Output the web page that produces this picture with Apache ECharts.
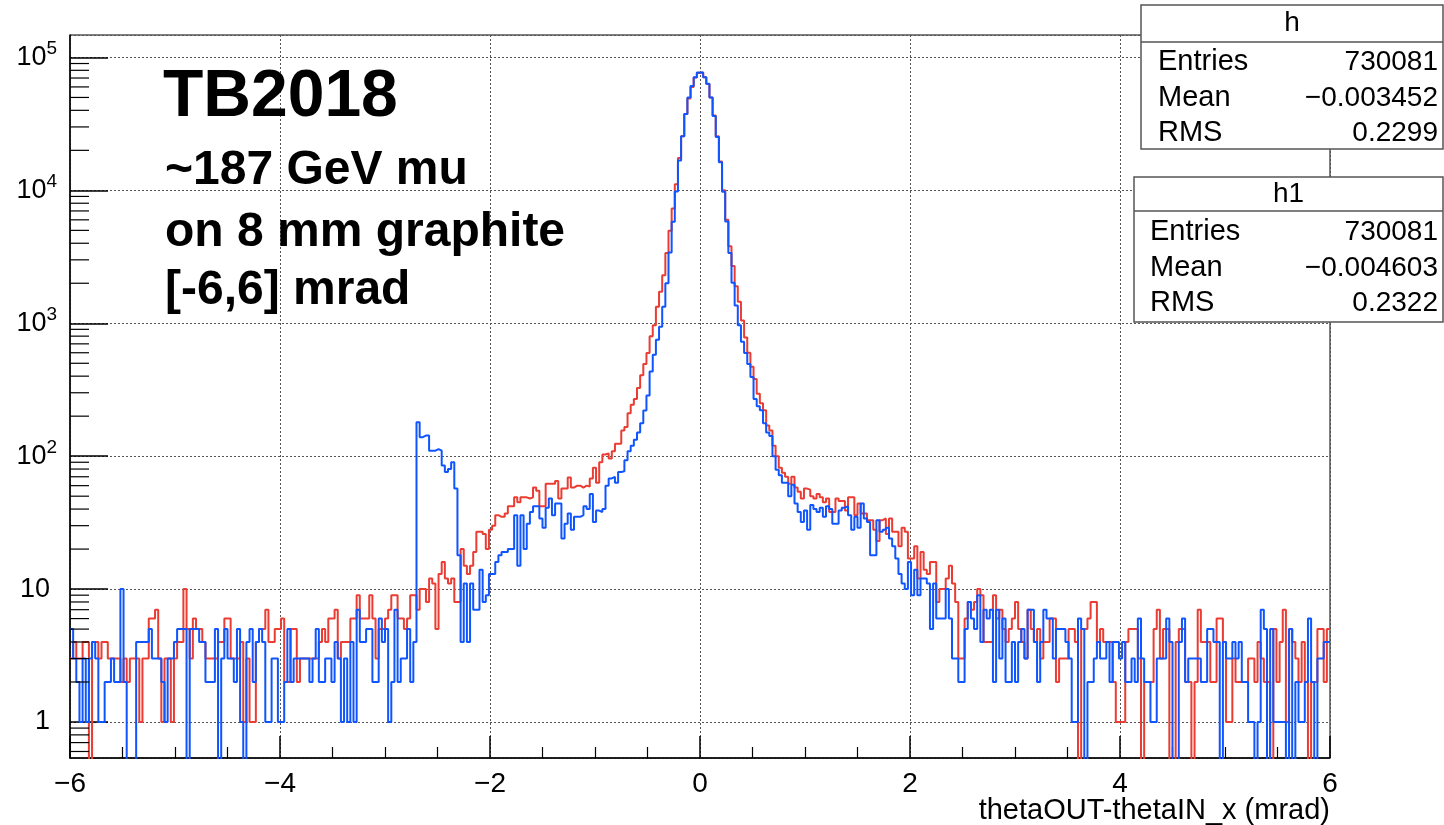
<!DOCTYPE html>
<html><head><meta charset="utf-8">
<script src="https://cdn.jsdelivr.net/npm/echarts@6/dist/echarts.min.js"></script>
<style>html,body{margin:0;padding:0;background:#fff}#c{width:1444px;height:825px}</style>
</head><body><div id="c"></div>
<script>
// ---- histogram definition ----
const xMin = -6, xMax = 6, nBins = 400;
const xTickValues = [-6, -4, -2, 0, 2, 4, 6];
const yDecadeLabels = ['1', '10', '10^2', '10^3', '10^4', '10^5'];

// red histogram (h), bin contents, 0.03 mrad bins from -6 to 6
const countsRed = [
3,4,3,3,4,4,0,4,4,3,4,4,3,3,3,3,2,3,2,3,
3,3,1,3,3,6,6,7,3,1,3,3,1,3,4,4,10,5,3,6,
5,5,4,3,3,3,3,4,4,6,6,3,3,3,4,1,3,1,1,4,
5,5,7,4,4,5,5,6,2,2,5,5,2,3,3,3,3,3,3,4,
5,4,6,6,7,3,4,4,4,6,6,9,6,6,6,9,6,3,5,5,
6,7,9,9,6,6,5,6,9,9,7,10,10,8,12,11,5,13,16,12,
11,12,8,8,20,15,13,15,19,27,27,26,20,28,30,36,35,35,37,42,
42,49,45,49,49,48,49,58,55,42,42,62,62,62,65,48,57,57,69,58,
60,60,58,60,59,68,82,63,90,103,105,96,109,124,124,156,166,210,244,269,
326,407,494,598,798,968,1330,1725,2300,3380,4970,7300,11100,17500,25500,37500,49000,60000,70500,76500,
77000,71000,63000,50000,36500,25500,16500,10000,6000,3800,2700,1900,1450,1050,780,600,470,380,295,250,
222,170,156,120,100,82,75,70,62,70,58,54,48,57,56,50,48,52,49,45,
48,38,38,48,46,46,39,49,49,36,44,37,37,33,33,28,23,33,34,26,
34,27,27,21,29,27,17,17,21,12,19,14,13,16,16,8,10,10,12,15,
11,8,3,3,6,8,7,8,10,9,4,4,4,9,6,7,5,4,5,6,
8,5,4,3,7,5,4,5,3,4,4,6,6,2,3,3,3,5,5,4,
0,5,5,6,8,8,4,5,4,4,4,2,1,1,1,4,5,5,5,3,
0,2,2,2,5,7,3,5,5,0,0,4,5,5,2,2,0,2,7,4,
4,4,2,2,6,6,4,1,1,3,2,2,2,2,3,3,2,4,3,2,
2,0,5,2,4,7,1,5,4,3,2,4,2,0,2,2,5,5,2,5
];

// blue histogram (h1)
const countsBlue = [
5,3,2,1,3,1,3,4,3,1,1,2,2,3,2,2,10,2,0,0,
0,4,4,4,4,5,3,3,3,2,1,3,3,4,5,5,5,0,5,5,
5,4,4,2,2,2,5,0,3,5,3,3,2,5,1,0,4,5,2,4,
5,4,1,1,3,3,1,1,2,5,2,3,3,3,3,3,2,3,5,2,
2,3,3,2,4,3,1,3,1,4,1,7,4,4,5,5,2,2,6,4,
5,1,2,7,2,3,3,5,2,4,180,139,143,143,110,110,113,110,85,76,
80,90,57,18,4,11,4,11,7,7,14,8,9,13,13,16,18,19,19,20,
20,36,15,36,20,31,38,42,42,34,29,41,48,36,44,44,24,31,37,28,
35,35,36,42,40,52,32,39,38,40,60,68,70,63,76,77,93,109,120,133,
151,177,221,286,434,580,750,940,1330,2000,3400,5800,9800,16800,25500,37500,50000,61000,71000,77000,
77000,71000,63400,50000,36300,25200,16300,9760,5840,3380,2020,1360,968,725,598,494,395,269,237,222,
177,151,142,100,79,72,63,63,50,61,44,38,32,39,28,43,40,38,41,35,
42,40,31,31,39,41,42,36,28,35,29,44,34,32,18,18,33,27,28,29,
24,21,17,13,11,10,16,9,14,9,12,12,11,5,11,6,6,6,10,6,
3,3,2,2,5,8,6,5,9,4,7,6,7,2,7,3,6,2,2,4,
2,4,5,3,7,7,4,2,4,7,6,6,3,5,5,5,4,3,1,1,
6,5,0,2,2,3,4,3,3,4,2,4,4,3,4,2,2,3,2,6,
3,2,2,1,1,3,3,3,6,4,0,0,4,6,2,3,3,3,3,2,
2,5,5,4,4,0,4,3,3,4,3,4,2,2,1,1,0,1,7,5,
0,5,1,1,1,1,0,5,0,2,1,1,2,6,2,0,3,3,4,4
];

const statRowLabels = ['Entries', 'Mean', 'RMS'];
const statsH = ['730081', '\u22120.003452', '0.2299'];
const statsH1 = ['730081', '\u22120.004603', '0.2322'];
const annotationLines = ['~187 GeV mu', 'on 8 mm graphite', '[-6,6] mrad'];

// ---- build ----
const FONT = '"Liberation Sans", Arial, Helvetica, sans-serif';
const yMin = 0.536, yMax = 147500;
function histPoints(counts) {
  const w = (xMax - xMin) / counts.length;
  const pts = [];
  for (let i = 0; i < counts.length; i++) {
    pts.push([xMin + i * w, counts[i] > 0 ? counts[i] : 0.05]);
  }
  const last = counts[counts.length - 1];
  pts.push([xMax, last > 0 ? last : 0.05]);
  return pts;
}
// minor tick positions of the log axis
const yMinorTicks = [];
for (let e = -1; e <= 5; e++) {
  for (let m = 2; m <= 9; m++) {
    const v = m * Math.pow(10, e);
    if (v > yMin && v < yMax) yMinorTicks.push([xMin, v]);
  }
}

const chart = echarts.init(document.getElementById('c'), null, {renderer: 'canvas'});

const graphic = [];
const textStyle = (t, x, y, font, align) => ({
  type: 'text', x: x, y: y, z: 100,
  style: {text: t, font: font, fill: '#000', align: align || 'left', verticalAlign: 'middle',
          textAlign: align || 'left', textVerticalAlign: 'middle'}
});
graphic.push(textStyle('TB2018', 163, 98, 'bold 66px ' + FONT));
const annY = [171, 233, 291];
annotationLines.forEach((t, i) => graphic.push(textStyle(t, 165, annY[i], 'bold 48px ' + FONT)));

function statBox(title, vals, x0, y0, w, h, titleH, rowYs, lx) {
  graphic.push({type: 'rect', z: 100, shape: {x: x0, y: y0, width: w, height: h},
    style: {fill: '#fff', stroke: '#555', lineWidth: 1.5}});
  graphic.push({type: 'line', z: 101, shape: {x1: x0, y1: y0 + titleH, x2: x0 + w, y2: y0 + titleH},
    style: {stroke: '#555', lineWidth: 1.5}});
  graphic.push(Object.assign(textStyle(title, x0 + w / 2, y0 + titleH / 2, '28px ' + FONT, 'center'), {z: 102}));
  statRowLabels.forEach((lab, i) => {
    graphic.push(Object.assign(textStyle(lab, lx, rowYs[i], '29px ' + FONT), {z: 102}));
    graphic.push(Object.assign(textStyle(vals[i], 1438, rowYs[i], '28px ' + FONT, 'right'), {z: 102}));
  });
}
statBox('h', statsH, 1141, 5, 302, 144, 37, [62, 98, 133], 1158);
statBox('h1', statsH1, 1134, 177, 309, 145, 34, [232, 268, 303], 1150);
graphic.push(Object.assign(textStyle('thetaOUT-thetaIN_x (mrad)', 1330, 811, '29px ' + FONT, 'right'), {z: 100}));

const option = {
  animation: false,
  backgroundColor: '#fff',
  grid: {left: 70, right: 114, top: 35, bottom: 67, show: true, borderColor: '#000', borderWidth: 1},
  xAxis: {
    type: 'value', min: xMin, max: xMax, interval: 2,
    axisLine: {show: true, onZero: false, lineStyle: {color: '#000', width: 1.5}},
    axisTick: {show: true, inside: true, length: 22, lineStyle: {color: '#000', width: 1.5}},
    minorTick: {show: true, splitNumber: 4, length: 11, lineStyle: {color: '#000', width: 1.2}},
    splitLine: {show: true, lineStyle: {color: '#555', type: [2, 2], width: 1}},
    axisLabel: {
      color: '#000', fontFamily: FONT, fontSize: 28, margin: 12,
      formatter: v => xTickValues.indexOf(v) >= 0 ? (v < 0 ? '\u2212' + Math.abs(v) : String(v)) : ''
    }
  },
  yAxis: {
    type: 'log', logBase: 10, min: yMin, max: yMax,
    axisLine: {show: true, onZero: false, lineStyle: {color: '#000', width: 1.5}},
    axisTick: {show: true, inside: true, length: 38, lineStyle: {color: '#000', width: 1.5}},
    splitLine: {show: true, lineStyle: {color: '#555', type: [2, 2], width: 1}},
    axisLabel: {
      margin: 13, showMinLabel: false, showMaxLabel: false,
      formatter: v => {
        const l = Math.log10(v), e = Math.round(l);
        if (Math.abs(l - e) > 1e-6 || e < 0 || e >= yDecadeLabels.length) return '';
        const lab = yDecadeLabels[e];
        if (lab.indexOf('^') < 0) return '{n|' + lab + '}{p| }';
        const parts = lab.split('^');
        return '{n|' + parts[0] + '}{s|' + parts[1] + '}';
      },
      rich: {
        n: {fontFamily: FONT, fontSize: 27, color: '#000', lineHeight: 36},
        s: {fontFamily: FONT, fontSize: 19, color: '#000', lineHeight: 19, verticalAlign: 'top'},
        p: {fontFamily: FONT, fontSize: 10, width: 7}
      }
    }
  },
  series: [
    {type: 'line', step: 'end', data: histPoints(countsRed), showSymbol: false, symbol: 'none',
     lineStyle: {color: '#ea3c32', width: 2}, clip: true, z: 3},
    {type: 'line', step: 'end', data: histPoints(countsBlue), showSymbol: false, symbol: 'none',
     lineStyle: {color: '#0f55ff', width: 2}, clip: true, z: 4},
    {type: 'custom', data: yMinorTicks, z: 5, silent: true,
     renderItem: (params, api) => {
       const p = api.coord([api.value(0), api.value(1)]);
       return {type: 'line', shape: {x1: p[0], y1: p[1], x2: p[0] + 19, y2: p[1]},
               style: {stroke: '#000', lineWidth: 1.2}};
     }}
  ],
  graphic: graphic
};
chart.setOption(option);
</script>
</body></html>
